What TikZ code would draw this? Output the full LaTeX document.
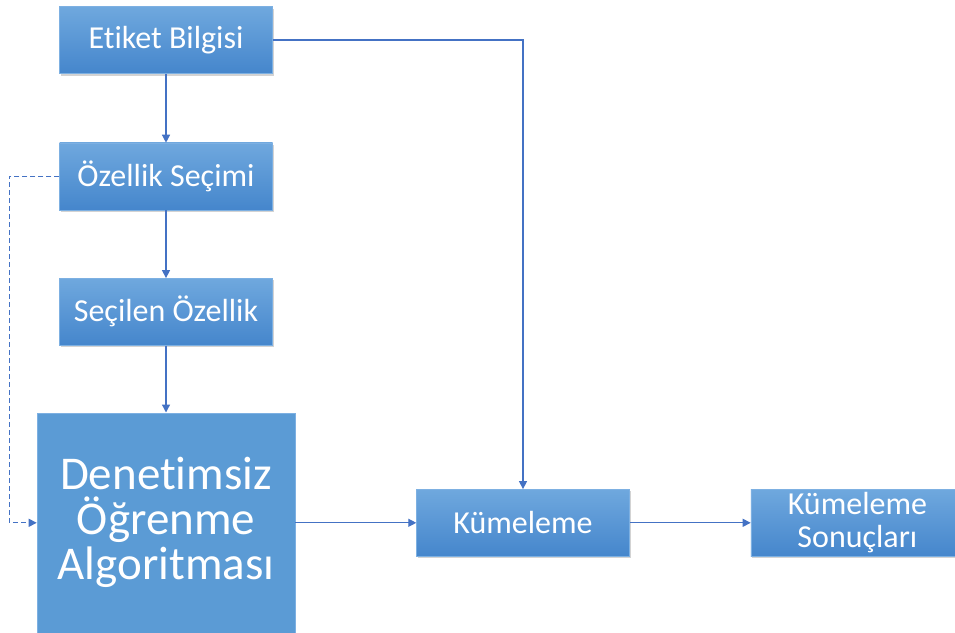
\documentclass[tikz,border=0pt]{standalone}
\usepackage{fontspec}
\setmainfont[Ligatures=NoCommon]{Carlito}
\usetikzlibrary{positioning}
\usetikzlibrary{shadows}
\usetikzlibrary{arrows.meta}
\definecolor{kutuust}{HTML}{6FA8DE}
\definecolor{kutualt}{HTML}{4586CC}
\definecolor{kutukenar}{HTML}{7DB0E2}
\definecolor{kutuduz}{HTML}{5B9BD5}
\definecolor{okrenk}{HTML}{4472C4}

\begin{document}
\begin{tikzpicture}[x=1pt, y=-1pt, node distance=68pt,
  blok/.style={draw=kutukenar, line width=0.4pt, rectangle, top color=kutuust, bottom color=kutualt,
    minimum width=213pt, minimum height=67pt, text=white, align=center,
    font=\fontsize{32}{33}\selectfont,
    drop shadow={shadow xshift=1.5pt, shadow yshift=-2pt, opacity=0.35}},
  ok/.style={draw=okrenk, line width=1.3pt, -{Triangle[length=8pt,width=8pt]}}]
\useasboundingbox (0,0) rectangle (955,632);
\node[blok] (EB) at (166,40) {Etiket Bilgisi};
\node[blok] (OS) [below=69pt of EB] {Özellik Seçimi};
\node[blok] (SO) [below=of OS] {Seçilen Özellik};
\node[draw=kutukenar, line width=0.6pt, rectangle, fill=kutuduz, minimum width=258pt, minimum height=220pt,
  text=white, align=center, font=\fontsize{47}{45}\selectfont] (DOA) [below=67pt of SO] {Denetimsiz\\Öğrenme\\Algoritması};
\node[blok] (KM) [right=121pt of DOA] {Kümeleme};
\node[blok] (KS) [right=121pt of KM] {Kümeleme\\Sonuçları};
\draw[ok] (EB.south) -- (OS.north);
\draw[ok] (OS.south) -- (SO.north);
\draw[ok] (SO.south) -- (DOA.north);
\draw[ok] (EB.east) -| (KM.north);
\draw[ok] (DOA.east) -- (KM.west);
\draw[ok] (KM.east) -- (KS.west);
\draw[ok, dash pattern=on 5pt off 3pt] (OS.west) -- ++(-50,0) |- (DOA.west);
\end{tikzpicture}
\end{document}
